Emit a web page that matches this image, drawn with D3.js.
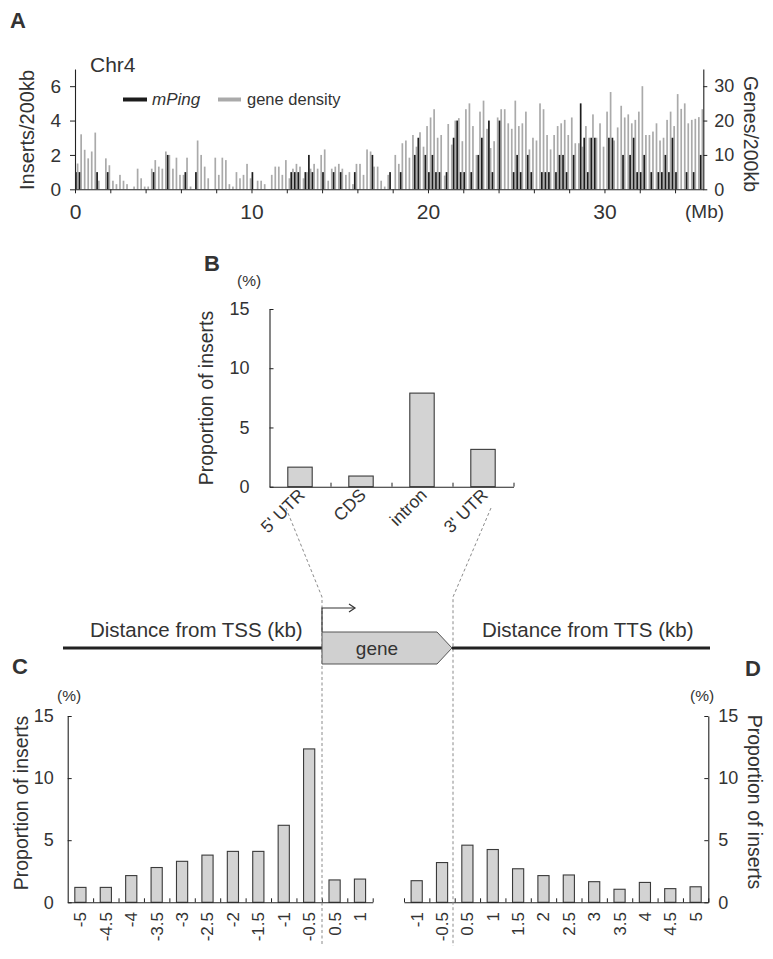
<!DOCTYPE html>
<html><head><meta charset="utf-8">
<script src="https://cdn.jsdelivr.net/npm/d3@7"></script>
<style>
body{margin:0;background:#fff}
text{font-family:"Liberation Sans",Arial,sans-serif;fill:#333}
</style>
</head><body>
<svg id="c" width="773" height="959"></svg>
<script>
// ---------- DATA ----------
const binMb = 0.2;
const mPing = [
1,1,0,0,0,0,1,0,0,1,
0,0,0,0,0,0,0,0,0,0,
0,0,1,0,0,0,2,0,0,0,
0,1,0,0,1,0,0,0,0,0,
0,0,0,0,0,0,0,0,0,0,
1,0,0,0,0,0,0,0,0,0,
0,1,1,1,0,1,2,1,0,0,
1,0,0,1,0,1,0,0,0,1,
0,0,0,0,2,0,0,0,0,1,
0,0,1,0,0,0,2,3,0,2,
1,2,1,1,0,1,0,3,4,1,
1,0,1,0,2,3,0,4,1,0,
4,0,0,0,1,2,1,0,2,1,
0,0,1,1,1,0,1,2,2,1,
0,2,0,5,3,1,3,3,0,0,
0,3,3,0,0,2,0,2,3,1,
1,2,0,1,0,1,1,2,1,3,
1,0,0,1,0,1,0,2];
const geneDensity = [
7.5,16,11.5,9,11,16.5,2.5,0,9,7,
2.5,1.5,4.2,2.5,1.5,0,0.8,6,3.2,0.8,
0.8,6,8.5,6.6,6,11,10,6,9.2,4.2,
4.2,9.2,0.8,0,14.2,10,6.6,3.2,0,9.2,
4.2,9.2,8.5,1.5,0.8,5,3.2,4.2,7.4,3.2,
0,2.5,2.5,1.5,0,4.2,6.6,6.6,4.2,8.5,
3.2,6,7.4,6.6,3.2,5,6,7.4,6,10,
11.6,2.5,6,6.6,7.4,6,4.2,5,1.5,7.4,
7.4,4.2,11.6,11,6.6,6.6,2.5,0.8,4.2,0,
10,7.4,13.4,14.2,9.2,15.8,12.4,16.6,12.4,18.4,
20.9,23.3,15,15.8,4,19,13,20,20.7,14,
23.3,25,18.4,10,22.6,25.8,17.6,12,14,20.9,
23.3,23.3,19.2,17.6,25.8,18.4,19.2,22.6,11.6,15,
14.2,25,23.3,15.8,11.6,15.8,18.4,19.2,20.2,15.8,
20.9,13.4,13.4,12.4,18.4,15,21.8,15,19.2,12.4,
22.6,28.3,14.2,18,24.3,20.9,21.8,19.2,20.2,22.6,
30,15.8,15.8,16.8,19.2,14.2,15,20.2,22.6,18.4,
27.7,23.4,25,19.2,20.2,20.5,21,23.3];
const mbTicks = [0,10,20,30];
const insertTicks = [0,2,4,6];
const geneTicks = [0,10,20,30];

const regionCats = ["5' UTR","CDS","intron","3' UTR"];
const regionVals = [1.65,0.9,7.9,3.15];

const tssCats = ["-5","-4.5","-4","-3.5","-3","-2.5","-2","-1.5","-1","-0.5","0.5","1"];
const tssVals = [1.2,1.2,2.15,2.8,3.3,3.8,4.1,4.1,6.2,12.35,1.8,1.87];

const ttsCats = ["-1","-0.5","0.5","1","1.5","2","2.5","3","3.5","4","4.5","5"];
const ttsVals = [1.74,3.2,4.6,4.25,2.7,2.15,2.2,1.66,1.05,1.6,1.1,1.25];

const pctTicks = [0,5,10,15];

// ---------- DRAW ----------
const svg = d3.select("#c");
const INK = "#222";
const FONT = '"Liberation Sans",Arial,sans-serif';
const fmtInt = d3.format("d");

function styleAxis(g, fs){
  g.selectAll(".domain").attr("stroke", INK).attr("stroke-width",1.1);
  g.selectAll(".tick line").attr("stroke", INK).attr("stroke-width",1);
  g.selectAll(".tick text").attr("font-family",FONT).attr("font-size",fs).attr("fill","#333");
}

// ===== Panel A =====
const gA = svg.append("g");
const nBins = mPing.length;
const xA = d3.scaleLinear().domain([0, nBins*binMb]).range([75, 703.3]);
const yA = d3.scaleLinear().domain([0,7]).range([189.3, 69]);
const yA2 = d3.scaleLinear().domain([0,35]).range([189.3, 69]);
const bwA = xA(binMb) - xA(0);

gA.selectAll("rect.gd").data(geneDensity).join("rect").attr("class","gd")
  .attr("x",(d,i)=>xA(i*binMb)+bwA*0.5).attr("width",bwA*0.48)
  .attr("y",d=>yA2(d)).attr("height",d=>yA2(0)-yA2(d)).attr("fill","#aaaaaa");
gA.selectAll("rect.mp").data(mPing).join("rect").attr("class","mp")
  .attr("x",(d,i)=>xA(i*binMb)+bwA*0.02).attr("width",bwA*0.48)
  .attr("y",d=>yA(d)).attr("height",d=>yA(0)-yA(d)).attr("fill","#1c1c1c");

const axAL = gA.append("g").attr("transform","translate(75,0)")
  .call(d3.axisLeft(yA).tickValues(insertTicks).tickFormat(fmtInt).tickSize(5).tickSizeOuter(0).tickPadding(9));
styleAxis(axAL, 19);
const axAR = gA.append("g").attr("transform","translate(703.3,0)")
  .call(d3.axisRight(yA2).tickValues(geneTicks).tickFormat(fmtInt).tickSize(4).tickSizeOuter(0).tickPadding(7));
styleAxis(axAR, 18);
const axAB = gA.append("g").attr("transform","translate(0,189.3)")
  .call(d3.axisBottom(xA).tickValues(d3.range(0,35.1,2)).tickFormat(d=>mbTicks.includes(d)?fmtInt(d):"")
  .tickSize(4).tickSizeOuter(0).tickPadding(11));
styleAxis(axAB, 21);

gA.append("text").attr("x",10).attr("y",28).attr("font-size",22).attr("font-weight","bold").attr("fill","#111").text("A");
gA.append("text").attr("x",90).attr("y",72).attr("font-size",21).text("Chr4");
gA.append("text").attr("transform","translate(34,130) rotate(-90)").attr("text-anchor","middle").attr("font-size",20).text("Inserts/200kb");
gA.append("text").attr("transform","translate(744,134) rotate(90)").attr("text-anchor","middle").attr("font-size",19.5).text("Genes/200kb");
gA.append("text").attr("x",685).attr("y",218).attr("font-size",19).text("(Mb)");
// legend
gA.append("line").attr("x1",123).attr("x2",147).attr("y1",99.5).attr("y2",99.5).attr("stroke","#1c1c1c").attr("stroke-width",4);
gA.append("text").attr("x",152).attr("y",105).attr("font-size",17).attr("font-style","italic").text("mPing");
gA.append("line").attr("x1",218).attr("x2",241).attr("y1",99.5).attr("y2",99.5).attr("stroke","#aaaaaa").attr("stroke-width",4);
gA.append("text").attr("x",247).attr("y",105).attr("font-size",16.5).text("gene density");

// ===== helper for bar panels =====
function barPanel(opt){
  const g = svg.append("g");
  const x = d3.scaleBand().domain(opt.cats).range([opt.x0, opt.x1]).padding(0);
  const y = d3.scaleLinear().domain([0,15]).range([opt.yb, opt.yt]);
  const bw = x.bandwidth();
  g.selectAll("rect").data(opt.vals).join("rect")
    .attr("x",(d,i)=>x(opt.cats[i])+bw*(0.5-opt.bf/2)).attr("width",bw*opt.bf)
    .attr("y",d=>y(d)).attr("height",d=>y(0)-y(d))
    .attr("fill","#d3d3d3").attr("stroke","#3a3a3a").attr("stroke-width",1.1);
  const xb = d3.scaleLinear().domain([0,opt.cats.length]).range([opt.x0,opt.x1]);
  const axX = g.append("g").attr("transform",`translate(0,${opt.yb})`)
    .call(d3.axisTop(xb).tickValues(d3.range(opt.tickFrom,opt.cats.length+1)).tickFormat("").tickSize(4).tickSizeOuter(0));
  styleAxis(axX, 12);
  let axY;
  if(opt.right){
    axY = g.append("g").attr("transform",`translate(${opt.x1},0)`)
      .call(d3.axisRight(y).tickValues(pctTicks).tickFormat(fmtInt).tickSize(-4).tickSizeOuter(0).tickPadding(opt.pad));
  } else {
    axY = g.append("g").attr("transform",`translate(${opt.x0},0)`)
      .call(d3.axisLeft(y).tickValues(pctTicks).tickFormat(fmtInt).tickSize(-4).tickSizeOuter(0).tickPadding(opt.pad));
  }
  styleAxis(axY, 18);
  return {g,x,y,bw};
}

// ===== Panel B =====
const B = barPanel({cats:regionCats, vals:regionVals, x0:269.5, x1:513.5, yb:486.7, yt:309, bf:0.4, right:false, pad:20, tickFrom:1});
B.g.selectAll("text.cat").data(regionCats).join("text").attr("class","cat")
  .attr("transform",d=>`translate(${B.x(d)+B.bw/2+6},${496}) rotate(-45)`)
  .attr("text-anchor","end").attr("font-size",17.5).text(d=>d);
B.g.append("text").attr("x",204).attr("y",271).attr("font-size",22).attr("font-weight","bold").attr("fill","#111").text("B");
B.g.append("text").attr("x",237).attr("y",286).attr("font-size",15.5).text("(%)");
B.g.append("text").attr("transform","translate(213,398) rotate(-90)").attr("text-anchor","middle").attr("font-size",19.5).text("Proportion of inserts");

// ===== Panel C =====
const C = barPanel({cats:tssCats, vals:tssVals, x0:67.7, x1:372.7, yb:902.3, yt:716, bf:0.44, right:false, pad:14, tickFrom:1});
C.g.selectAll("text.cat").data(tssCats).join("text").attr("class","cat")
  .attr("transform",d=>`translate(${C.x(d)+C.bw/2+6},${912}) rotate(-90)`)
  .attr("text-anchor","end").attr("font-size",17).text(d=>d);
C.g.append("text").attr("x",12).attr("y",674).attr("font-size",22).attr("font-weight","bold").attr("fill","#111").text("C");
C.g.append("text").attr("x",57).attr("y",701).attr("font-size",15.5).text("(%)");
C.g.append("text").attr("transform","translate(28,803) rotate(-90)").attr("text-anchor","middle").attr("font-size",19.5).text("Proportion of inserts");

// ===== Panel D =====
const D = barPanel({cats:ttsCats, vals:ttsVals, x0:404, x1:708.3, yb:902.3, yt:716, bf:0.44, right:true, pad:10, tickFrom:0});
D.g.selectAll("text.cat").data(ttsCats).join("text").attr("class","cat")
  .attr("transform",d=>`translate(${D.x(d)+D.bw/2+6},${912}) rotate(-90)`)
  .attr("text-anchor","end").attr("font-size",17).text(d=>d);
D.g.append("text").attr("x",745).attr("y",676).attr("font-size",22).attr("font-weight","bold").attr("fill","#111").text("D");
D.g.append("text").attr("x",690).attr("y",701).attr("font-size",15.5).text("(%)");
D.g.append("text").attr("transform","translate(748,802) rotate(90)").attr("text-anchor","middle").attr("font-size",19.5).text("Proportion of inserts");

// ===== Gene diagram =====
const gG = svg.append("g");
const dash = "3,2.5";
gG.append("path").attr("d","M286,508 L322,597 L322,946").attr("fill","none").attr("stroke","#8a8a8a").attr("stroke-width",1).attr("stroke-dasharray",dash);
gG.append("path").attr("d","M491,508 L453,597 L453,946").attr("fill","none").attr("stroke","#8a8a8a").attr("stroke-width",1).attr("stroke-dasharray",dash);
gG.append("line").attr("x1",63).attr("x2",322).attr("y1",648).attr("y2",648).attr("stroke","#222").attr("stroke-width",3);
gG.append("line").attr("x1",452).attr("x2",710).attr("y1",648).attr("y2",648).attr("stroke","#222").attr("stroke-width",3);
gG.append("path").attr("d","M322,632 L437,632 L452,648 L437,664 L322,664 Z").attr("fill","#d0d0d0").attr("stroke","#555").attr("stroke-width",1);
gG.append("text").attr("x",377).attr("y",655).attr("text-anchor","middle").attr("font-size",19).text("gene");
gG.append("path").attr("d","M322,632 V608 H354").attr("fill","none").attr("stroke","#333").attr("stroke-width",1.2);
gG.append("path").attr("d","M349,604 L355,608 L349,612").attr("fill","none").attr("stroke","#333").attr("stroke-width",1.2);
gG.append("text").attr("x",90).attr("y",637).attr("font-size",20.5).text("Distance from TSS (kb)");
gG.append("text").attr("x",482).attr("y",637).attr("font-size",20.5).text("Distance from TTS (kb)");
</script>
</body></html>
